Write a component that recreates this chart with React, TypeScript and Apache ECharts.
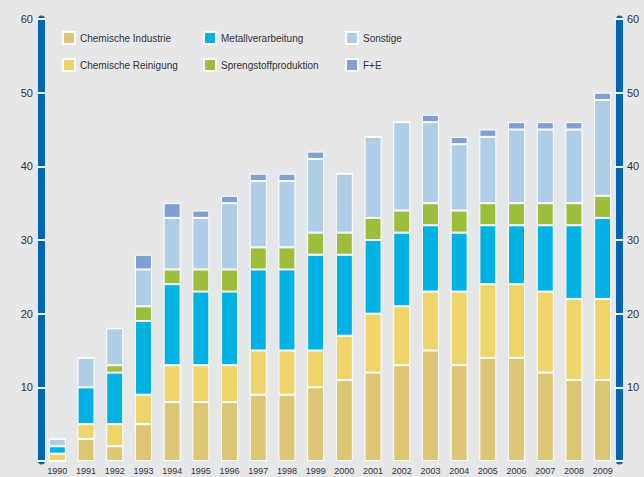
import React, { useEffect, useRef } from "react";
import * as echarts from "echarts";

const years = ["1990","1991","1992","1993","1994","1995","1996","1997","1998","1999","2000","2001","2002","2003","2004","2005","2006","2007","2008","2009"];
const chemIndustrie = [0, 3, 2, 5, 8, 8, 8, 9, 9, 10, 11, 12, 13, 15, 13, 14, 14, 12, 11, 11];
const chemReinigung = [1, 2, 3, 4, 5, 5, 5, 6, 6, 5, 6, 8, 8, 8, 10, 10, 10, 11, 11, 11];
const metall = [1, 5, 7, 10, 11, 10, 10, 11, 11, 13, 11, 10, 10, 9, 8, 8, 8, 9, 10, 11];
const spreng = [0, 0, 1, 2, 2, 3, 3, 3, 3, 3, 3, 3, 3, 3, 3, 3, 3, 3, 3, 3];
const sonstige = [1, 4, 5, 5, 7, 7, 9, 9, 9, 10, 8, 11, 12, 11, 9, 9, 10, 10, 10, 13];
const fue = [0, 0, 0, 2, 2, 1, 1, 1, 1, 1, 0, 0, 0, 1, 1, 1, 1, 1, 1, 1];
const yTicks = [0, 10, 20, 30, 40, 50, 60];

const seriesDefs = [
  { name: "Chemische Industrie", data: chemIndustrie, color: "#dcc573" },
  { name: "Chemische Reinigung", data: chemReinigung, color: "#efd46a" },
  { name: "Metallverarbeitung", data: metall, color: "#00b1e4" },
  { name: "Sprengstoffproduktion", data: spreng, color: "#9dbe3d" },
  { name: "Sonstige", data: sonstige, color: "#aecde7" },
  { name: "F+E", data: fue, color: "#809fd4" },
];

export default function App() {
  const ref = useRef<HTMLDivElement>(null);
  useEffect(() => {
    document.body.style.margin = "0";
    const chart = echarts.init(ref.current!, null, { renderer: "svg" });
    const font = "Liberation Sans, Arial, sans-serif";
    const blue = "#0066b3";
    const mkAxis = (pos: "left" | "right", inside: boolean) => ({
      type: "value",
      position: pos,
      min: yTicks[0],
      max: yTicks[yTicks.length - 1],
      interval: 10,
      offset: 2,
      splitLine: { show: false },
      axisLine: { show: !inside, lineStyle: { color: blue, width: 7 } },
      axisTick: { show: true, inside, length: 4, lineStyle: { color: "#ffffff", width: 2 } },
      axisLabel: {
        show: !inside,
        margin: 8,
        fontSize: 11,
        fontFamily: font,
        color: "#333",
        formatter: (v: number) => (v === 0 ? "" : String(v)),
      },
    });
    const legendBase = {
      orient: "vertical",
      top: 31,
      itemWidth: 12,
      itemHeight: 12,
      itemGap: 13,
      icon: "rect",
      textStyle: { fontSize: 10, fontFamily: font, color: "#333" },
      padding: 0,
      selectedMode: false,
    };
    chart.setOption({
      animation: false,
      backgroundColor: "#e6e7e9",
      grid: { left: 43, right: 27, top: 19, bottom: 16 },
      legend: [
        { ...legendBase, left: 62, data: ["Chemische Industrie", "Chemische Reinigung"] },
        { ...legendBase, left: 203, data: ["Metallverarbeitung", "Sprengstoffproduktion"] },
        { ...legendBase, left: 345, data: ["Sonstige", "F+E"] },
      ],
      xAxis: {
        type: "category",
        data: years,
        axisLine: { show: false },
        axisTick: { show: false },
        axisLabel: { fontSize: 9, fontFamily: font, color: "#333", margin: 5 },
      },
      yAxis: [mkAxis("left", false), mkAxis("left", true), mkAxis("right", false), mkAxis("right", true)],
      series: seriesDefs.map((s) => ({
        name: s.name,
        type: "bar",
        stack: "total",
        barWidth: 17,
        data: s.data,
        itemStyle: { color: s.color, borderColor: "#ffffff", borderWidth: 1 },
      })),
    });
    return () => chart.dispose();
  }, []);
  return <div ref={ref} style={{ width: 644, height: 477 }} />;
}
